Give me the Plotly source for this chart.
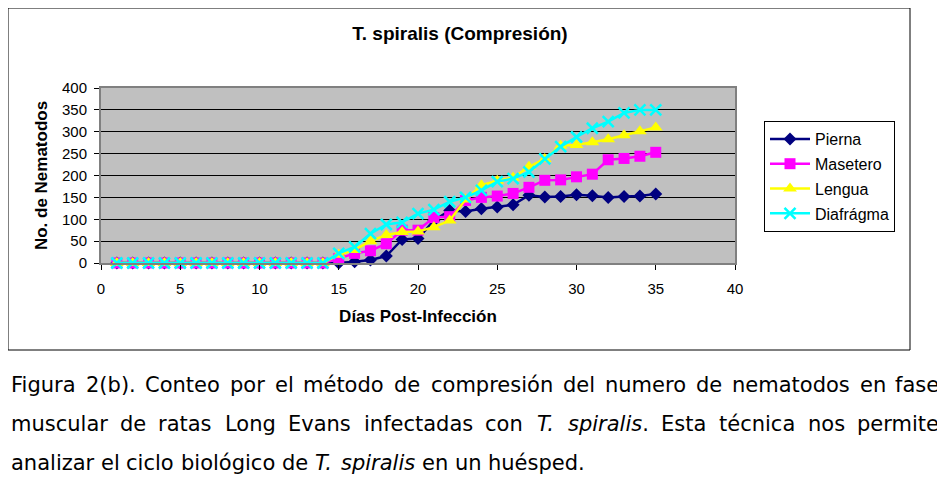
import plotly.graph_objects as go

# days post-infection
dias = list(range(1, 36))

# number of nematodes per muscle
pierna = [0] * 14 + [0, 3, 7, 16, 54, 56, 97, 120, 118, 124, 128, 133, 155, 151,
                     152, 156, 154, 150, 152, 153, 158]
masetero = [0] * 14 + [10, 22, 28, 44, 75, 75, 104, 106, 143, 150, 153, 159, 173, 189,
                       190, 197, 203, 236, 239, 244, 253]
lengua = [0] * 14 + [19, 30, 50, 64, 71, 72, 82, 97, 145, 178, 188, 195, 220, 238,
                     268, 270, 276, 283, 292, 301, 310]
diafragma = [0] * 14 + [22, 37, 67, 88, 93, 113, 122, 140, 150, 166, 186, 193, 208, 238,
                        266, 288, 308, 323, 343, 350, 350]

x_ticks = [0, 5, 10, 15, 20, 25, 30, 35, 40]
y_ticks = [0, 50, 100, 150, 200, 250, 300, 350, 400]

caption = [
    "Figura 2(b). Conteo por el método de compresión del numero de nematodos en fase",
    "muscular de ratas Long Evans infectadas con <i>T.</i> <i>spiralis</i>. Esta técnica nos permite",
    "analizar el ciclo biológico de <i>T.</i> <i>spiralis</i> en un huésped.",
]

# the page body adds an 8px margin, so the figure is drawn 8px smaller
OFF = 8
W, H = 945 - OFF, 483 - OFF
L, R, T, B = 101 - OFF, 210, 88 - OFF, 220
PW, PH = W - L - R, H - T - B


def px_x(px):
    # reference pixel -> paper coordinate
    return (px - 101) / PW


def px_y(py):
    return (263 - py) / PH


# rough DejaVu Sans advance widths (em), used to justify the caption
widths = {' ': .318, '(': .39, ')': .39, '.': .318, ',': .318, 'F': .575, 'C': .698,
          'L': .557, 'E': .632, 'T': .611, 'a': .613, 'b': .635, 'c': .55, 'd': .635,
          'e': .615, 'f': .352, 'g': .635, 'h': .634, 'i': .278, 'j': .278, 'k': .579,
          'l': .278, 'm': .974, 'n': .634, 'o': .612, 'p': .635, 'q': .635, 'r': .411,
          's': .521, 't': .392, 'u': .634, 'v': .592, 'w': .818, 'x': .592, 'y': .592,
          'z': .525, 'á': .613, 'é': .615, 'í': .278, 'ó': .612, 'ú': .634}


def word_width(word, size):
    plain = word.replace('<i>', '').replace('</i>', '')
    return sum(widths.get(ch, .636) for ch in plain) * size


fig = go.Figure()
fig.add_trace(go.Scatter(x=dias, y=pierna, name='Pierna', mode='lines+markers',
                         line=dict(color='#000080', width=2.5),
                         marker=dict(symbol='diamond', size=10, color='#000080'),
                         cliponaxis=False, legendgroup='a'))
fig.add_trace(go.Scatter(x=dias, y=masetero, name='Masetero', mode='lines+markers',
                         line=dict(color='#FF00FF', width=2.5),
                         marker=dict(symbol='square', size=11, color='#FF00FF'),
                         cliponaxis=False, legendgroup='b'))
fig.add_trace(go.Scatter(x=dias, y=lengua, name='Lengua', mode='lines+markers',
                         line=dict(color='#FFFF00', width=2.5),
                         marker=dict(symbol='triangle-up', size=12, color='#FFFF00'),
                         cliponaxis=False, legendgroup='c'))
fig.add_trace(go.Scatter(x=dias, y=diafragma, name='Diafrágma', mode='lines+markers',
                         line=dict(color='#00FFFF', width=2.5),
                         marker=dict(symbol='x-thin-open', size=11, color='#00FFFF',
                                     line=dict(color='#00FFFF', width=2.5)),
                         cliponaxis=False, legendgroup='d'))

# caption under the chart, justified like the source
cap_size = 21
left_px, right_px = 10, 940
annotations = []
line_y = [385, 424, 463]
for i, line in enumerate(caption):
    words = line.split(' ')
    ws = [word_width(w, cap_size) for w in words]
    last = i == len(caption) - 1
    if not last:
        gap = (right_px - left_px - sum(ws)) / (len(words) - 1)
    else:
        gap = widths[' '] * cap_size
    xpos = left_px
    for j, (w, ww) in enumerate(zip(words, ws)):
        if last or j == 0:
            xa, xx = 'left', xpos
        elif j == len(words) - 1:
            xa, xx = 'right', right_px
        else:
            xa, xx = 'center', xpos + ww / 2
        annotations.append(dict(x=px_x(xx), y=px_y(line_y[i]), xref='paper', yref='paper',
                                text=w, showarrow=False, xanchor=xa, yanchor='middle',
                                borderpad=0,
                                font=dict(family='DejaVu Sans', size=cap_size, color='black')))
        xpos += ww + gap

fig.update_layout(
    width=W, height=H,
    margin=dict(l=L, r=R, t=T, b=B),
    paper_bgcolor='white',
    plot_bgcolor='#C0C0C0',
    font=dict(family='Liberation Sans, Arial', size=15, color='black'),
    title=dict(text='<b>T. spiralis (Compresión)</b>', x=(460 - OFF) / W, xref='container',
               y=1 - (33 - OFF) / H, yanchor='middle', xanchor='center',
               font=dict(size=19, color='black')),
    showlegend=True,
    legend=dict(x=px_x(764), y=px_y(121), xanchor='left', yanchor='top',
                bgcolor='white', bordercolor='black', borderwidth=1,
                font=dict(size=16, color='black'), tracegroupgap=1,
                itemwidth=40),
    annotations=annotations,
    shapes=[dict(type='rect', xref='paper', yref='paper',
                 x0=px_x(8), x1=px_x(910), y0=px_y(350), y1=px_y(8),
                 line=dict(color='black', width=1), layer='below')],
)

fig.update_xaxes(range=[0, 40], tickvals=x_ticks, showgrid=False, zeroline=False,
                 showline=True, linecolor='#808080', linewidth=2, mirror=True,
                 ticks='outside', ticklen=5, tickcolor='black', ticklabelstandoff=6,
                 title=dict(text='<b>Días Post-Infección</b>', standoff=14,
                            font=dict(size=17)))
fig.update_yaxes(range=[0, 400], tickvals=y_ticks, showgrid=True, gridcolor='black',
                 gridwidth=1, zeroline=False,
                 showline=True, linecolor='#808080', linewidth=2, mirror=True,
                 ticks='outside', ticklen=5, tickcolor='black', ticklabelstandoff=4,
                 title=dict(text='<b>No. de Nematodos</b>', standoff=10,
                            font=dict(size=17)))

fig.write_html("out.html")
